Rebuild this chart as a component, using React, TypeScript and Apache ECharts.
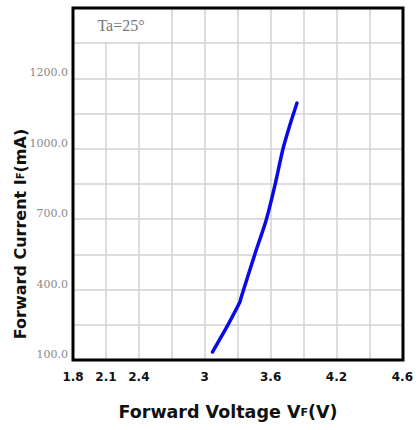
import React, { useEffect, useRef } from "react";
import * as echarts from "echarts";

const xTickLabels = ["1.8", "2.1", "2.4", "", "3", "", "3.6", "", "4.2", "", "4.6"];
const yTickLabels = ["100.0", "", "400.0", "", "700.0", "", "1000.0", "", "1200.0", "", ""];
const voltage = [3.07, 3.21, 3.32, 3.33, 3.46, 3.56, 3.64, 3.71, 3.77, 3.84];
const current = [134, 249, 347, 364, 556, 697, 846, 995, 1093, 1195];

export default function App() {
  const ref = useRef<HTMLDivElement>(null);
  useEffect(() => {
    if (!ref.current) return;
    const chart = echarts.init(ref.current, undefined, { renderer: "svg" });
    const G = { left: 73, top: 8, width: 330, height: 352 };
    chart.setOption({
      animation: false,
      backgroundColor: "#fff",
      grid: { ...G, containLabel: false },
      xAxis: {
        type: "value",
        min: 1.8,
        max: 4.8,
        interval: 0.3,
        axisLine: { show: false },
        axisTick: { show: false },
        splitLine: { show: true, lineStyle: { color: "#d2d2d2", width: 1.5 } },
        axisLabel: {
          margin: 11,
          color: "#111",
          fontFamily: "DejaVu Sans",
          fontWeight: "bold",
          fontSize: 12,
          showMinLabel: true,
          showMaxLabel: true,
          formatter: (v: number) => xTickLabels[Math.round((v - 1.8) / 0.3)] ?? "",
        },
      },
      yAxis: {
        type: "value",
        min: 100,
        max: 1600,
        interval: 150,
        axisLine: { show: false },
        axisTick: { show: false },
        splitLine: { show: true, lineStyle: { color: "#d2d2d2", width: 1.5 } },
        axisLabel: {
          margin: 5,
          color: "#888",
          fontFamily: "DejaVu Serif",
          fontSize: 11,
          verticalAlign: "bottom",
          formatter: (v: number) => yTickLabels[Math.round((v - 100) / 150)] ?? "",
        },
      },
      series: [
        {
          type: "line",
          data: voltage.map((v, i) => [v, current[i]]),
          showSymbol: false,
          smooth: 0.2,
          lineStyle: { color: "#0a0ae8", width: 3.5, cap: "round" },
          z: 5,
        },
      ],
      graphic: [
        {
          type: "rect",
          shape: { x: 74, y: 9, width: 97, height: 33 },
          style: { fill: "#fff" },
          z: 50,
        },
        {
          type: "text",
          x: 121,
          y: 25,
          style: {
            text: "Ta=25°",
            fontFamily: "Liberation Serif",
            fontSize: 16,
            fill: "#777",
            align: "center",
            verticalAlign: "middle",
          },
          z: 51,
        },
        {
          type: "rect",
          shape: { x: G.left, y: G.top, width: G.width, height: G.height },
          style: { fill: "none", stroke: "#000", lineWidth: 3 },
          z: 60,
        },
        {
          type: "text",
          x: 228,
          y: 412,
          style: {
            text: "Forward Voltage V{s|F}(V)",
            rich: { s: { fontSize: 11, fontWeight: "bold", fontFamily: "DejaVu Sans", fill: "#111" } },
            fontFamily: "DejaVu Sans",
            fontWeight: "bold",
            fontSize: 17.5,
            fill: "#111",
            align: "center",
            verticalAlign: "middle",
          },
          z: 60,
        },
        {
          type: "text",
          x: 20,
          y: 234,
          rotation: Math.PI / 2,
          style: {
            text: "Forward Current I{s|F}(mA)",
            rich: { s: { fontSize: 10, fontWeight: "bold", fontFamily: "DejaVu Sans", fill: "#111" } },
            fontFamily: "DejaVu Sans",
            fontWeight: "bold",
            fontSize: 16,
            fill: "#111",
            align: "center",
            verticalAlign: "middle",
          },
          z: 60,
        },
      ],
    });
    return () => chart.dispose();
  }, []);
  return (
    <div
      ref={ref}
      style={{ position: "fixed", left: 0, top: 0, width: 416, height: 430, background: "#fff" }}
    />
  );
}
